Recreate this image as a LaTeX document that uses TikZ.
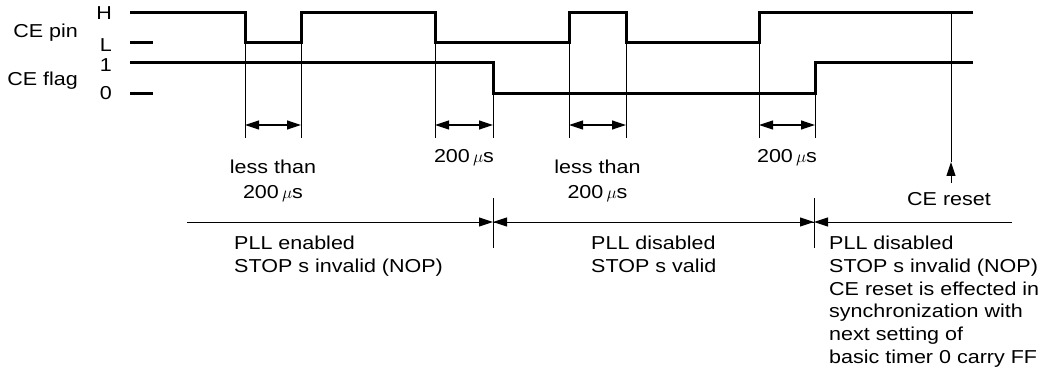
\documentclass[tikz,border=0pt]{standalone}
\usepackage{fontspec}
\setmainfont{Liberation Sans}[FakeStretch=1.15]
\usetikzlibrary{arrows.meta}
\begin{document}
\begin{tikzpicture}[x=1pt,y=-1pt,
  wave/.style={line width=3pt, line join=miter},
  thinline/.style={line width=1pt},
  lbl/.style={font=\fontsize{18.7}{22.6}\selectfont, inner sep=0pt},
  dimarrow/.style={line width=1.2pt, {Triangle[length=14pt,width=9pt]}-{Triangle[length=14pt,width=9pt]}},
  endtip/.style={line width=1pt, -{Triangle[length=14pt,width=9pt]}},
]
\useasboundingbox (0,0) rectangle (1039,385);
% left labels
\node[lbl, anchor=base east] (cepin) at (78,37.5) {CE pin};
\node[lbl, anchor=base east] (ceflag) at (78,86) {CE flag};
\node[lbl, anchor=base east] (lH) at (112,20) {H};
\node[lbl, anchor=base east] (lL) at (112,52) {L};
\node[lbl, anchor=base east] (l1) at (112,72) {1};
\node[lbl, anchor=base east] (l0) at (112,100) {0};
% edge coordinates
\coordinate (a1) at (245,43); \coordinate (a2) at (301,43);
\coordinate (b1) at (435,43); \coordinate (b2) at (493,94);
\coordinate (c1) at (569,43); \coordinate (c2) at (626,43);
\coordinate (d1) at (759,43); \coordinate (d2) at (815,94);
% waveforms
\draw[wave] (130,13) -- (245,13) -- (a1) -- (a2) -- (301,13) -- (435,13) -- (b1) -- (c1) -- (569,13) -- (626,13) -- (c2) -- (d1) -- (759,13) -- (973,13);
\draw[wave] (130,43) -- (153,43);
\draw[wave] (130,63) -- (493,63) -- (b2) -- (d2) -- (815,63) -- (973,63);
\draw[wave] (130,94) -- (153,94);
% extension lines
\foreach \p in {a1,a2,b1,b2,c1,c2,d1,d2}{
  \draw[thinline] (\p) -- (\p |- 0,138);
}
% dimension arrows
\draw[dimarrow] (a1 |- 0,125) -- (a2 |- 0,125);
\draw[dimarrow] (b1 |- 0,125) -- (b2 |- 0,125);
\draw[dimarrow] (c1 |- 0,125) -- (c2 |- 0,125);
\draw[dimarrow] (d1 |- 0,125) -- (d2 |- 0,125);
% dimension labels
\node[lbl, anchor=base] (t1a) at (273,174) {less than};
\node[lbl, anchor=base] (t1b) at (273,198) {200\,$\mu$s};
\node[lbl, anchor=base] (t2) at (464,163) {200\,$\mu$s};
\node[lbl, anchor=base] (t3a) at (597.5,174) {less than};
\node[lbl, anchor=base] (t3b) at (597.5,198) {200\,$\mu$s};
\node[lbl, anchor=base] (t4) at (787,163) {200\,$\mu$s};
% CE reset
\node[lbl, anchor=base] (reset) at (949,205) {CE reset};
\coordinate (rtip) at (951,162);
\coordinate (rtop) at (951,13);
\coordinate (rbot) at (951,183);
\draw[endtip] (rbot) -- (rtip);
\draw[thinline] (rtip) -- (rtop);
% bottom phase line
\coordinate (p0) at (187,222); \coordinate (p1) at (493,222);
\coordinate (p2) at (814,222); \coordinate (p3) at (1012,222);
\draw[thinline] (p1 |- 0,198) -- (p1 |- 0,248);
\draw[thinline] (p2 |- 0,198) -- (p2 |- 0,248);
\draw[endtip] (p0) -- (p1);
\draw[endtip] (p2) -- (p1);
\draw[endtip] (p1) -- (p2);
\draw[endtip] (p3) -- (p2);
% phase texts
\node[lbl, anchor=base west] (e1) at (234,249) {PLL enabled};
\node[lbl, anchor=base west] (e2) at (234,272) {STOP s invalid (NOP)};
\node[lbl, anchor=base west] (f1) at (591,249) {PLL disabled};
\node[lbl, anchor=base west] (f2) at (591,272) {STOP s valid};
\node[lbl, anchor=base west] (g1) at (829,249.5) {PLL disabled};
\node[lbl, anchor=base west] (g2) at (829,272.5) {STOP s invalid (NOP)};
\node[lbl, anchor=base west] (g3) at (829,295) {CE reset is effected in};
\node[lbl, anchor=base west] (g4) at (829,317.5) {synchronization with};
\node[lbl, anchor=base west] (g5) at (829,340) {next setting of};
\node[lbl, anchor=base west] (g6) at (829,363) {basic timer 0 carry FF};
\end{tikzpicture}
\end{document}
